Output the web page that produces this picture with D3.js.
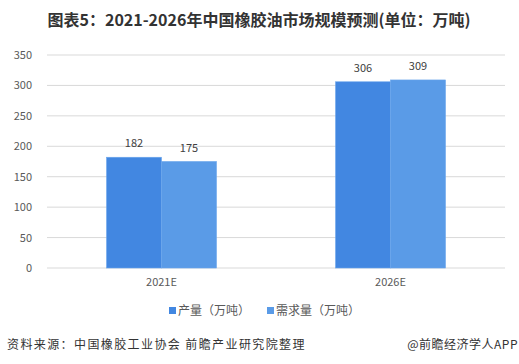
<html>
<head>
<meta charset="utf-8">
<script src="https://cdn.jsdelivr.net/npm/d3@7"></script>
<style>
  body { margin: 0; background: #fff; }
  text { font-family: "Microsoft YaHei", "Noto Sans CJK SC", sans-serif; }
</style>
</head>
<body>
<div id="chart"></div>
<script type="text/javascript">
// values
const categories = ["2021E", "2026E"]
const seriesNames = ["产量（万吨）", "需求量（万吨）"]
const production = [182, 306]
const demand = [175, 309]
const yTicks = [0, 50, 100, 150, 200, 250, 300, 350]
const colors = ["#4287e1", "#5a9be7"]

const svg = d3.select("#chart").append("svg")
    .attr("width", 519)
    .attr("height", 364)

// title
svg.append("text")
    .attr("x", 259).attr("y", 26)
    .attr("text-anchor", "middle")
    .attr("font-size", 16).attr("font-weight", "bold")
    .attr("fill", "#333")
    .text("图表5：2021-2026年中国橡胶油市场规模预测(单位：万吨)")

const x = d3.scaleBand().domain(categories).range([47, 505]).paddingInner(0.52).paddingOuter(0.26)
const xs = d3.scaleBand().domain([0, 1]).range([0, x.bandwidth()])
const y = d3.scaleLinear().domain([0, 350]).range([268, 55])

// gridlines
svg.append("g").selectAll("line").data(yTicks).enter().append("line")
    .attr("x1", 47).attr("x2", 505)
    .attr("y1", d => y(d)).attr("y2", d => y(d))
    .attr("stroke", "#d9d9d9").attr("stroke-width", 1)

// y axis labels
const yAxis = d3.axisLeft(y).tickValues(yTicks).tickSize(0).tickPadding(0)
svg.append("g")
    .attr("transform", "translate(32,0)")
    .call(yAxis)
    .call(g => g.select(".domain").remove())
    .call(g => g.selectAll("text").attr("font-size", 11).attr("fill", "#595959")
        .attr("font-family", "\"Microsoft YaHei\", \"Noto Sans CJK SC\", sans-serif"))

// bars
const series = [production, demand]
series.forEach((vals, si) => {
  const g = svg.append("g")
  g.selectAll("rect").data(vals).enter().append("rect")
      .attr("x", (d, i) => x(categories[i]) + xs(si))
      .attr("y", d => y(d))
      .attr("width", xs.bandwidth())
      .attr("height", d => y(0) - y(d))
      .attr("fill", colors[si])
      .attr("stroke", "#6aa5ec").attr("stroke-width", 0.6)
  g.selectAll("text").data(vals).enter().append("text")
      .attr("x", (d, i) => x(categories[i]) + xs(si) + xs.bandwidth() / 2)
      .attr("y", d => y(d) - 10)
      .attr("text-anchor", "middle")
      .attr("font-size", 11).attr("fill", "#404040")
      .text(d => d)
})

// x axis
const xAxis = d3.axisBottom(x).tickSize(0).tickPadding(0)
svg.append("g")
    .attr("transform", "translate(0,278)")
    .call(xAxis)
    .call(g => g.select(".domain").remove())
    .call(g => g.selectAll("text").attr("font-size", 11).attr("fill", "#595959")
        .attr("font-family", "\"Microsoft YaHei\", \"Noto Sans CJK SC\", sans-serif"))

// legend
const legendX = [169, 267]
seriesNames.forEach((n, i) => {
  svg.append("rect")
      .attr("x", legendX[i]).attr("y", 307)
      .attr("width", 7).attr("height", 7)
      .attr("fill", colors[i])
  svg.append("text")
      .attr("x", legendX[i] + 9).attr("y", 315)
      .attr("font-size", 12).attr("fill", "#595959")
      .text(n)
})

// footer
svg.append("text")
    .attr("x", 7).attr("y", 349)
    .attr("font-size", 12).attr("fill", "#333").attr("letter-spacing", 1.4)
    .text("资料来源：中国橡胶工业协会 前瞻产业研究院整理")
svg.append("text")
    .attr("x", 518).attr("y", 349)
    .attr("text-anchor", "end")
    .attr("font-size", 12).attr("fill", "#333").attr("letter-spacing", 0.5)
    .text("@前瞻经济学人APP")
</script>
</body>
</html>
